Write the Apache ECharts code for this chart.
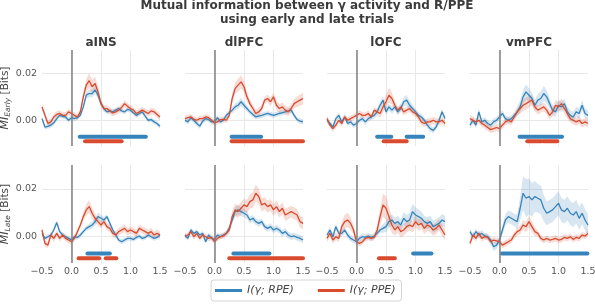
<!DOCTYPE html>
<html lang="en" style="height: 100%">
<head>
  <meta charset="utf-8">
</head>
<body style="height: 100%; margin: 0; background: #fff">
  <div id="container" style="width: 595px; height: 305px"></div>

  <script type="text/javascript" src="https://cdn.jsdelivr.net/npm/echarts@6/dist/echarts.min.js"></script>
  <script type="text/javascript">
// time axis (s), one value every 50 ms
var times = [-0.5, -0.45, -0.4, -0.35, -0.3, -0.25, -0.2, -0.15, -0.1, -0.05, 0, 0.05, 0.1, 0.15, 0.2, 0.25, 0.3, 0.35, 0.4, 0.45, 0.5,
  0.55, 0.6, 0.65, 0.7, 0.75, 0.8, 0.85, 0.9, 0.95, 1, 1.05, 1.1, 1.15, 1.2, 1.25, 1.3, 1.35, 1.4, 1.45, 1.5];
var regions = ['aINS', 'dlPFC', 'lOFC', 'vmPFC'];
var xTickValues = [-0.5, 0, 0.5, 1, 1.5];
var yTickValues = [0, 0.02];

// mean MI, in milli-bits (1e-3 bits)
// early trials
var aInsEarlyRpe = [0.7,-2.9,-2.6,-2.1,-1.1,0.7,2.1,1.7,1.4,0,1.1,0.7,1.1,2.1,5.7,10.7,11.4,11.4,12.9,10.7,7.1,5,3.6,4,3.6,4.3,5,4,3.6,4.6,4.3,3.1,2.1,2.9,3.6,1.7,0,0.3,-0.7,-1.4,-2.6];
var aInsEarlyPpe = [5.7,2.1,-1.4,-0.7,1.4,2.5,2.9,2.1,2.1,3.6,2.9,2.1,1.4,3.6,10,15,16.9,14.3,15.7,12.1,7.1,5,5,4,3.1,3.6,4.3,5.5,7.1,6,5,4.3,2.9,3.6,4.3,3.6,2.9,4,3.6,2.5,1.4];
var dlpfcEarlyRpe = [0,-0.7,1.1,0,-1.4,-2.5,-0.4,0.7,0.3,-0.7,-0.7,1.1,-0.7,0,2.1,3.2,4.3,5.7,6.4,7.9,6.4,5,3.6,2.5,1.4,1.8,2.1,2.5,2.9,2.5,2.1,2.5,2.9,3.2,3.6,3.9,4.3,2.1,0.3,-0.4,-0.7];
var dlpfcEarlyPpe = [0.7,1.1,1.4,0.4,0,0.7,0.7,1.4,1.1,0,-1.1,-0.7,0.3,0.4,0,2.1,9.3,13.6,15,16.4,14.3,10,7.1,5,2.9,3.6,5,8.6,9.3,7.9,10,6.4,5,5.7,4.3,3.6,5,7.1,7.9,8.6,9.3];
var lofcEarlyRpe = [0,-1.4,-2.9,0.7,2.1,-0.7,1.4,-1.4,-0.7,-2.1,-1.4,0,0.7,-0.7,0.7,1.4,2.1,3.6,6.4,8.6,3.6,5.7,4.3,5.7,3.6,5,7.9,8.6,6.4,5,3.6,2.1,1.4,0,-2.1,-3.6,-4.3,-2.9,0,3.6,0.7];
var lofcEarlyPpe = [0.7,-2.1,-3.6,-2.1,0,-1.4,1.4,0,0.7,1.4,2.1,2.9,2.1,2.1,2.9,1.4,4.3,3.6,2.9,5.7,7.9,10.7,9.3,6.4,4.3,5.7,3.6,4.3,5,3.6,2.9,1.4,-0.7,-1.4,-0.7,-0.7,0,-0.7,-0.7,0,-1.4];
var vmpfcEarlyRpe = [-2.1,0,-2.1,3.6,-0.7,0,-1.4,-2.1,-0.7,0,1.4,2.9,0.7,0,0.7,2.1,3.6,5.7,10,12.1,10.7,9.3,6.4,8.6,9.3,11.4,10,7.1,4.3,3.6,6.4,5.7,7.1,3.6,2.1,1.4,3.6,2.9,6.4,2.9,2.1];
var vmpfcEarlyPpe = [0.7,0,-0.7,0,-1.4,-2.1,-3.1,-4,-3.6,-3.1,-3.6,-2.1,-0.7,0,-0.7,1.4,3.6,5,6.4,7.1,7.9,8.6,5.7,4.3,5,5.7,4.3,2.1,3.6,6.4,5.7,7.1,5,2.9,0.7,0,-0.7,0,-1.4,-0.7,-1.4];
// late trials
var aInsLateRpe = [1.4,-0.7,0,0.7,2.8,5.9,2.1,0.7,0,-0.7,-1.4,0,-0.3,0.7,2.1,3.5,4.2,4.9,6.3,8.4,7.7,7,8.4,5.6,2.8,0.7,-1.4,-2.1,-1.4,-0.7,-0.7,-1.1,-0.3,0.3,-0.7,-0.3,0.7,0,-0.7,-0.3,0.7];
var aInsLatePpe = [2.8,-2.8,-3.5,0.7,-0.7,1.4,-0.7,0.7,-0.7,-1.4,-2.1,-0.7,2.1,4.9,8.4,11.2,12.6,9.8,7.7,6.3,4.9,6.3,4.2,3.5,1.4,0.7,2.1,2.8,3.5,2.1,2.8,2.1,1.4,3.5,2.8,2.1,1.4,2.1,0.7,1.4,0.7];
var dlpfcLateRpe = [0.7,-0.7,2.8,1.4,2.1,0.7,1.4,-2.1,0.7,-0.7,-1.1,0.7,0,0.7,1.4,3.5,7,10.5,11.2,10.5,9.8,9.1,7,7.7,6.3,5.6,6.3,4.2,3.5,4.2,2.8,3.5,2.8,1.4,2.1,0.7,0,0.3,-0.3,-0.7,-1.4];
var dlpfcLatePpe = [0,0.7,2.1,0,1.4,-0.7,0.7,0,-0.7,-0.3,-2.1,-0.7,0,0.3,1.4,2.8,8.4,11.2,10.5,11.9,13.3,12.6,14.7,15.4,18.2,16.8,13.3,14,12.6,13.3,11.2,12.6,10.5,11.9,9.1,9.8,10.5,9.8,9.1,6.3,5.6];
var lofcLateRpe = [0.7,2.8,0,4.2,1.4,1.4,2.8,0.7,-0.7,-1.4,-2.1,-0.7,0,-0.3,0.3,-0.3,0.3,1.4,2.8,3.5,4.2,6.3,7,5.6,6.3,4.9,7.7,6.3,7,10.5,9.1,8.4,7.7,6.3,5.6,6.3,4.2,4.9,5.6,7,6.3];
var lofcLatePpe = [-0.7,1.4,-1.4,0,-0.7,4.2,6.3,7,5.6,2.8,-2.1,-2.8,-2.1,-0.7,-0.3,-0.7,-0.3,2.8,8.4,13.3,11.9,8.4,4.9,2.8,4.2,2.1,2.8,4.2,4.9,4.2,6.3,4.9,5.6,3.5,4.9,4.2,2.8,3.5,4.9,2.8,0.7];
var vmpfcLateRpe = [2.1,0,2.1,0.7,1.4,0.3,0,-1.4,-4.2,-3.5,-1.4,2.8,7,8.4,7.7,7,6.3,11.9,18.2,16.1,16.8,15.4,16.8,16.1,15.4,11.9,9.8,10.5,11.2,12.6,14,11.2,10.5,11.9,9.8,9.1,10.5,7.7,9.8,7,4.9];
var vmpfcLatePpe = [-2.8,0.7,-0.7,1.4,-0.7,0,-0.3,-2.1,-1.4,-1.7,-2.1,-3.5,-2.8,-2.1,-1.4,0.7,2.1,2.8,4.9,4.2,6.3,4.2,2.1,1.4,-0.7,-1.4,-0.7,-1.4,-1.1,-0.7,-1.4,-1.1,-0.3,-0.7,0,-1.1,-0.3,-0.7,0.7,0.3,1.4];

// half width of the shaded error band, milli-bits
var aInsEarlyRpeSem = [1,1,1,1,1,1,1,1,1,1,1,1,1,1,1.2,1.5,1.6,1.6,1.6,1.5,1.3,1,1,1,1,1,1,1,1,1,1,1,1,1,1,1,1,1,1,1,1];
var aInsEarlyPpeSem = [1.3,1.3,1.3,1.3,1.3,1.3,1.3,1.3,1.3,1.3,1.3,1.3,1.3,1.3,1.8,2.6,3.2,3,2.8,2.4,1.8,1.4,1.4,1.4,1.4,1.4,1.4,1.4,1.4,1.4,1.4,1.4,1.4,1.4,1.4,1.4,1.4,1.4,1.4,1.4,1.4];
var dlpfcEarlyRpeSem = [1.1,1.1,1.1,1.1,1.1,1.1,1.1,1.1,1.1,1.1,1.1,1.1,1.1,1.1,1.1,1.1,1.3,1.5,1.6,1.7,1.5,1.3,1.1,1.1,1.1,1.1,1.1,1.1,1.1,1.1,1.1,1.1,1.1,1.1,1.1,1.1,1.1,1.1,1.1,1.1,1.1];
var dlpfcEarlyPpeSem = [1.2,1.2,1.2,1.2,1.2,1.2,1.2,1.2,1.2,1.2,1.2,1.2,1.2,1.2,1.2,1.2,2,2.5,2.7,2.8,2.5,2,1.6,1.6,1.6,1.6,1.6,1.6,1.6,1.9,1.9,1.9,1.9,1.9,1.9,1.9,1.9,2,2.2,2.4,2.6];
var lofcEarlyRpeSem = [1.2,1.2,1.2,1.2,1.2,1.2,1.2,1.2,1.2,1.2,1.2,1.2,1.2,1.2,1.2,1.2,1.5,1.5,1.5,1.5,1.5,1.5,1.5,1.5,1.5,1.5,2,2.2,2,1.6,1.3,1.3,1.3,1.3,1.3,1.3,1.3,1.3,1.3,1.3,1.3];
var lofcEarlyPpeSem = [1.3,1.3,1.3,1.3,1.3,1.3,1.3,1.3,1.3,1.3,1.3,1.3,1.3,1.3,1.3,1.3,1.3,1.3,1.8,2.4,2.9,3.2,2.6,2,1.5,1.5,1.5,1.5,1.5,1.5,1.5,1.5,1.5,1.5,1.5,1.5,1.5,1.5,1.5,1.5,1.5];
var vmpfcEarlyRpeSem = [1.4,1.4,1.4,1.4,1.4,1.4,1.4,1.4,1.4,1.4,1.4,1.4,1.4,1.4,1.4,1.4,2,2.6,3,3.2,3,2.6,2.4,2.6,3,3.2,2.8,2.2,2.2,2.2,2.2,2.2,2.2,2.2,2.2,2.2,2.2,2.2,2.2,2.2,2.2];
var vmpfcEarlyPpeSem = [1.5,1.5,1.5,1.5,1.5,1.5,1.5,1.5,1.5,1.5,1.5,1.5,1.5,1.5,1.5,1.5,1.5,2,2.4,2.6,2.6,2.3,1.8,1.8,1.8,1.8,1.8,1.8,1.8,2.2,2.2,2.2,2.2,2.2,1.7,1.7,1.7,1.7,1.7,1.7,1.7];
var aInsLateRpeSem = [1,1,1,1,1,1,1,1,1,1,1,1,1,1,1,1,1.3,1.5,1.6,1.6,1.5,1.3,1,1,1,1,1,1,1,1,1,1,1,1,1,1,1,1,1,1,1];
var aInsLatePpeSem = [1.3,1.3,1.3,1.3,1.3,1.3,1.3,1.3,1.3,1.3,1.3,1.3,1.3,1.3,1.8,2.4,2.7,2.4,1.9,1.5,1.5,1.5,1.5,1.5,1.5,1.5,1.5,1.5,1.5,1.5,1.5,1.5,1.5,1.5,1.5,1.5,1.5,1.5,1.5,1.5,1.5];
var dlpfcLateRpeSem = [1,1,1,1,1,1,1,1,1,1,1,1,1,1,1,1.4,1.8,2,2,1.9,1.8,1.7,1.4,1.4,1.4,1.4,1.4,1.4,1.4,1.4,1.4,1.4,1.4,1.4,1.4,1.4,1.4,1.4,1.4,1.4,1.4];
var dlpfcLatePpeSem = [1.2,1.2,1.2,1.2,1.2,1.2,1.2,1.2,1.2,1.2,1.2,1.2,1.2,1.2,1.2,1.8,2.4,2.6,2.6,2.6,2.6,2.8,3,3.3,3.5,3.3,2.9,2.5,2.5,2.5,2.5,2.5,2.5,2.5,2.5,2.5,2.5,2.5,2.5,2.5,2.5];
var lofcLateRpeSem = [1.3,1.3,1.3,1.3,1.3,1.3,1.3,1.3,1.3,1.3,1.3,1.3,1.3,1.3,1.3,1.3,1.3,1.3,1.3,1.8,2.2,2.4,2.4,2.4,2.4,2.4,2.6,2.8,3,3.2,3.2,3,2.8,2.5,2.5,2.5,2.5,2.5,2.5,2.5,2.5];
var lofcLatePpeSem = [1.5,1.5,1.5,1.5,1.5,2.2,2.8,3,2.6,2,1.2,1.2,1.2,1.2,1.2,1.2,1.2,2,3.5,4.8,5,4.2,3.2,2.4,2.4,2.4,2.4,2.4,2.4,2.4,2.4,2.4,2.4,2.4,2.4,2.4,2.4,2.4,2.4,2.4,2.4];
var vmpfcLateRpeSem = [1.3,1.3,1.3,1.3,1.3,1.3,1.3,1.6,1.8,1.6,1.5,2,2.4,2.6,2.6,2.6,3,5,7,8,7.5,7,6.5,6,6,5.5,5,5,5,5,5,5,5,5,5,5,5,4.8,4.6,4.5,4.5];
var vmpfcLatePpeSem = [1.3,1.3,1.3,1.3,1.3,1.3,1.3,1.3,1.3,1.3,1.3,1.3,1.3,1.3,1.3,1.3,1.6,1.8,2,2.2,2.4,2.2,1.8,1.3,1.3,1.3,1.3,1.3,1.3,1.3,1.3,1.3,1.3,1.3,1.3,1.3,1.3,1.3,1.3,1.3,1.3];

// significant time windows [start, end] in s
var aInsEarlyRpeSig = [[0.14, 1.26]];
var aInsEarlyPpeSig = [[0.23, 0.85]];
var dlpfcEarlyRpeSig = [[0.29, 0.79]];
var dlpfcEarlyPpeSig = [[0.29, 1.5]];
var lofcEarlyRpeSig = [[0.35, 0.59], [0.85, 1.13]];
var lofcEarlyPpeSig = [[0.46, 0.85]];
var vmpfcEarlyRpeSig = [[0.34, 1.06]];
var vmpfcEarlyPpeSig = [[0.47, 0.71], [0.74, 0.98]];
var aInsLateRpeSig = [[0.27, 0.65]];
var aInsLatePpeSig = [[0.12, 0.47], [0.58, 0.76]];
var dlpfcLateRpeSig = [[0.32, 0.93]];
var dlpfcLatePpeSig = [[0.25, 1.5]];
var lofcLateRpeSig = [[0.96, 1.27]];
var lofcLatePpeSig = [[0.38, 0.65]];
var vmpfcLateRpeSig = [[0.04, 1.49]];
var vmpfcLatePpeSig = [];
// y level (milli-bits) where the significance bars sit
var rpeSigLevel = -7;
var ppeSigLevel = -9;

var font = 'DejaVu Sans';
var blue = '#3584bb';
var red = '#d94a2e';
var rpeName = 'I(\u03b3; RPE)';
var ppeName = 'I(\u03b3; PPE)';

var panels = [
  { row: 0, col: 0, rpe: aInsEarlyRpe, ppe: aInsEarlyPpe, rpeSem: aInsEarlyRpeSem, ppeSem: aInsEarlyPpeSem, rpeSig: aInsEarlyRpeSig, ppeSig: aInsEarlyPpeSig },
  { row: 0, col: 1, rpe: dlpfcEarlyRpe, ppe: dlpfcEarlyPpe, rpeSem: dlpfcEarlyRpeSem, ppeSem: dlpfcEarlyPpeSem, rpeSig: dlpfcEarlyRpeSig, ppeSig: dlpfcEarlyPpeSig },
  { row: 0, col: 2, rpe: lofcEarlyRpe, ppe: lofcEarlyPpe, rpeSem: lofcEarlyRpeSem, ppeSem: lofcEarlyPpeSem, rpeSig: lofcEarlyRpeSig, ppeSig: lofcEarlyPpeSig },
  { row: 0, col: 3, rpe: vmpfcEarlyRpe, ppe: vmpfcEarlyPpe, rpeSem: vmpfcEarlyRpeSem, ppeSem: vmpfcEarlyPpeSem, rpeSig: vmpfcEarlyRpeSig, ppeSig: vmpfcEarlyPpeSig },
  { row: 1, col: 0, rpe: aInsLateRpe, ppe: aInsLatePpe, rpeSem: aInsLateRpeSem, ppeSem: aInsLatePpeSem, rpeSig: aInsLateRpeSig, ppeSig: aInsLatePpeSig },
  { row: 1, col: 1, rpe: dlpfcLateRpe, ppe: dlpfcLatePpe, rpeSem: dlpfcLateRpeSem, ppeSem: dlpfcLatePpeSem, rpeSig: dlpfcLateRpeSig, ppeSig: dlpfcLatePpeSig },
  { row: 1, col: 2, rpe: lofcLateRpe, ppe: lofcLatePpe, rpeSem: lofcLateRpeSem, ppeSem: lofcLatePpeSem, rpeSig: lofcLateRpeSig, ppeSig: lofcLatePpeSig },
  { row: 1, col: 3, rpe: vmpfcLateRpe, ppe: vmpfcLatePpe, rpeSem: vmpfcLateRpeSem, ppeSem: vmpfcLatePpeSem, rpeSig: vmpfcLateRpeSig, ppeSig: vmpfcLatePpeSig }
];

var gridLefts = [42, 185, 327, 470];
var gridWidth = 118;
var rowTops = [50, 165];
var rowHeights = [96, 98];

function toPairs(vals) {
  return times.map(function (t, k) { return [t, vals[k] / 1000]; });
}

function bandSeries(vals, sem, color, gi) {
  return {
    type: 'custom', xAxisIndex: gi, yAxisIndex: gi, silent: true, z: 1,
    data: [[0, 0]],
    renderItem: function (params, api) {
      var pts = [];
      for (var k = 0; k < times.length; k++) pts.push(api.coord([times[k], (vals[k] + sem[k]) / 1000]));
      for (var j = times.length - 1; j >= 0; j--) pts.push(api.coord([times[j], (vals[j] - sem[j]) / 1000]));
      return { type: 'polygon', shape: { points: pts }, style: { fill: color, opacity: 0.2 } };
    }
  };
}

function sigSeries(segs, level, color, gi) {
  return segs.map(function (s) {
    return {
      type: 'line', xAxisIndex: gi, yAxisIndex: gi, silent: true, symbol: 'none', z: 4,
      lineStyle: { color: color, width: 4, cap: 'round' },
      data: [[s[0], level / 1000], [s[1], level / 1000]]
    };
  });
}

var grids = [], xAxes = [], yAxes = [], series = [];
var graphics = [
  {
    type: 'text', x: 307, y: -0.5, silent: true,
    style: {
      text: 'Mutual information between \u03b3 activity and R/PPE\nusing early and late trials',
      align: 'center', verticalAlign: 'top', lineHeight: 13.5,
      font: 'bold 12px "DejaVu Sans"', fill: '#3b3b3b'
    }
  }
];
regions.forEach(function (r, c) {
  graphics.push({
    type: 'text', x: gridLefts[c] + gridWidth / 2, y: 42.5, silent: true,
    style: { text: r, align: 'center', verticalAlign: 'middle', font: 'bold 12px "DejaVu Sans"', fill: '#3b3b3b' }
  });
});

panels.forEach(function (p, i) {
  grids.push({ left: gridLefts[p.col], top: rowTops[p.row], width: gridWidth, height: rowHeights[p.row], outerBoundsMode: 'none' });
  xAxes.push({
    gridIndex: i, type: 'value', min: -0.5, max: 1.5, interval: 0.5,
    axisLine: { show: false }, axisTick: { show: false },
    axisLabel: {
      show: p.row === 1, margin: 4, color: '#555', fontFamily: font, fontSize: 9.5,
      customValues: xTickValues,
      formatter: function (v) { var s = Math.abs(v).toFixed(1); return v < 0 ? '\u2212' + s : s; }
    },
    splitLine: { show: true, showMinLine: false, showMaxLine: false, lineStyle: { color: '#e8e8e8', width: 1 } }
  });
  var yName = '';
  if (p.col === 0) yName = '{i|MI}{s|' + (p.row === 0 ? 'Early' : 'Late') + '}{n| [Bits]}';
  yAxes.push({
    gridIndex: i, type: 'value', min: -0.011, max: 0.03,
    axisLine: { show: false },
    axisTick: { show: false, customValues: yTickValues },
    splitLine: { show: true, lineStyle: { color: '#e8e8e8', width: 1 } },
    axisLabel: {
      show: p.col === 0, margin: 5, color: '#555', fontFamily: font, fontSize: 9.5,
      customValues: yTickValues,
      formatter: function (v) { return v.toFixed(2); }
    },
    name: yName, nameLocation: 'middle', nameGap: 26, nameRotate: 90,
    nameTextStyle: {
      color: '#444', fontFamily: font, fontSize: 11,
      rich: {
        i: { fontStyle: 'italic', fontSize: 11, fontFamily: font, color: '#444' },
        s: { fontStyle: 'italic', fontSize: 7.5, fontFamily: font, color: '#444', padding: [5, 0, 0, 0] },
        n: { fontSize: 10.5, fontFamily: font, color: '#444' }
      }
    }
  });

  series.push(bandSeries(p.rpe, p.rpeSem, blue, i));
  series.push(bandSeries(p.ppe, p.ppeSem, red, i));
  series.push({
    name: rpeName, type: 'line', xAxisIndex: i, yAxisIndex: i, symbol: 'none', z: 3,
    color: blue, lineStyle: { color: blue, width: 1.3 }, data: toPairs(p.rpe),
    markLine: {
      silent: true, symbol: 'none', label: { show: false },
      lineStyle: { color: '#808080', width: 1.5, type: 'solid' },
      data: [{ xAxis: 0 }]
    }
  });
  series.push({
    name: ppeName, type: 'line', xAxisIndex: i, yAxisIndex: i, symbol: 'none', z: 3,
    color: red, lineStyle: { color: red, width: 1.3 }, data: toPairs(p.ppe)
  });
  series = series.concat(sigSeries(p.rpeSig, rpeSigLevel, blue, i));
  series = series.concat(sigSeries(p.ppeSig, ppeSigLevel, red, i));
});

var chart = echarts.init(document.getElementById('container'), null, { renderer: 'canvas' });
var option = {
  animation: false,
  backgroundColor: '#ffffff',
  grid: grids,
  xAxis: xAxes,
  yAxis: yAxes,
  graphic: graphics,
  legend: {
    left: 211, top: 280, icon: 'rect', itemWidth: 27, itemHeight: 3, itemGap: 24,
    padding: [5, 6, 5, 4], borderColor: '#d4d4d4', borderWidth: 1, borderRadius: 3,
    textStyle: { fontFamily: font, fontSize: 11, fontStyle: 'italic', color: '#444' },
    data: [{ name: rpeName, itemStyle: { color: blue } }, { name: ppeName, itemStyle: { color: red } }]
  },
  series: series
};
chart.setOption(option);
  </script>
</body>
</html>
